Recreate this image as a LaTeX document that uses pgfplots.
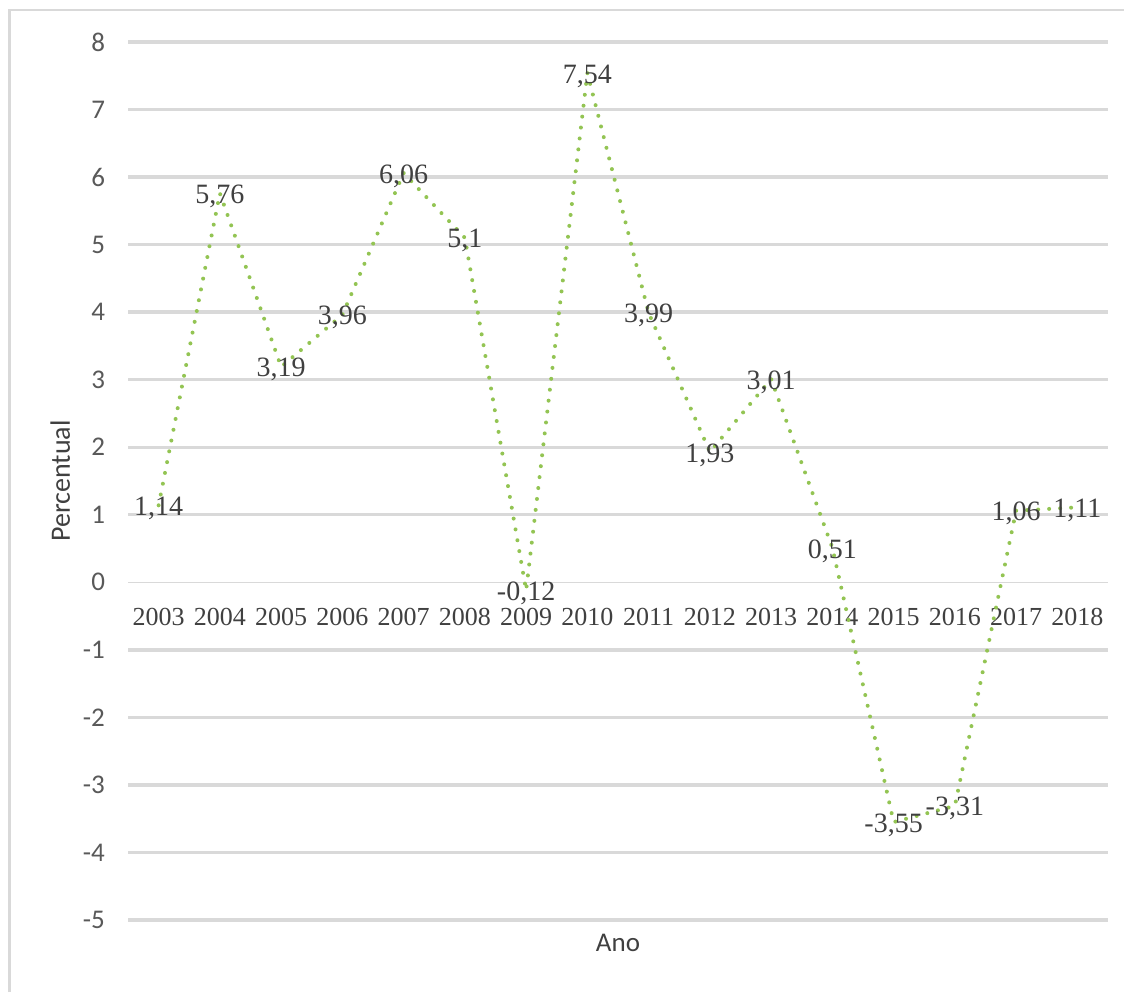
\documentclass[border=0pt]{standalone}
\usepackage{pgfplots}
\pgfplotsset{compat=1.18}
\usepackage{pgfplotstable}
\usepackage{fontspec}
\setmainfont{Liberation Serif}
\newfontfamily\labelfont{Carlito}

\definecolor{gridgray}{HTML}{D9D9D9}
\definecolor{ticktext}{HTML}{595959}
\definecolor{valtext}{HTML}{404040}
\definecolor{linegreen}{HTML}{93C453}

\pgfplotstableread{
x  y     lab
0  1.14  1,14
1  5.76  5,76
2  3.19  3,19
3  3.96  3,96
4  6.06  6,06
5  5.1   5,1
6  -0.12 -0,12
7  7.54  7,54
8  3.99  3,99
9  1.93  1,93
10 3.01  3,01
11 0.51  0,51
12 -3.55 -3,55
13 -3.31 -3,31
14 1.06  1,06
15 1.11  1,11
}\pibdata

\begin{document}
\begin{tikzpicture}
\useasboundingbox (0,0) rectangle (562pt,496pt);
% outer frame (top and left edges)
\draw[gridgray, line width=1.3pt] (4.8pt,0) -- (4.8pt,491pt) -- (562pt,491pt);
\begin{axis}[
  at={(64pt,36pt)}, anchor=south west,
  scale only axis, width=490pt, height=439pt,
  xmin=-0.5, xmax=15.5, ymin=-5, ymax=8,
  enlargelimits=false, clip=false,
  axis x line*=middle, axis y line*=left,
  axis line style={draw=none},
  major tick length=0pt,
  xtick={0,...,15},
  xticklabels={2003,2004,2005,2006,2007,2008,2009,2010,2011,2012,2013,2014,2015,2016,2017,2018},
  xticklabel style={font=\fontsize{13}{13}\selectfont, text=valtext, anchor=center, yshift=-17.5pt},
  ytick={-5,-4,-3,-2,-1,1,2,3,4,5,6,7,8},
  extra y ticks={0},
  extra y tick style={grid style={gridgray, line width=0.5pt}},
  yticklabel style={font=\labelfont\fontsize{13.5}{13.5}\selectfont, text=ticktext, anchor=east, xshift=-8pt},
  /pgf/number format/assume math mode=true,
  ymajorgrids,
  grid style={gridgray, line width=1.7pt},
  ylabel={Percentual},
  xlabel={Ano},
  every axis y label/.style={at={(rel axis cs:-0.069,0.5)}, anchor=center, rotate=90,
    font=\labelfont\fontsize{14}{14}\selectfont, text=valtext},
  every axis x label/.style={at={(axis cs:7.5,-5)}, anchor=center, yshift=-11.5pt,
    font=\labelfont\fontsize{13.5}{13.5}\selectfont, text=valtext},
]
\addplot[linegreen, line width=2pt, line cap=round, dash pattern=on 0pt off 5.5pt,
  point meta=explicit symbolic,
  nodes near coords,
  every node near coord/.append style={anchor=center, yshift=-1.5pt, font=\fontsize{14}{14}\selectfont, text=valtext},
] table[x=x, y=y, meta=lab] {\pibdata};
\end{axis}
\end{tikzpicture}
\end{document}
